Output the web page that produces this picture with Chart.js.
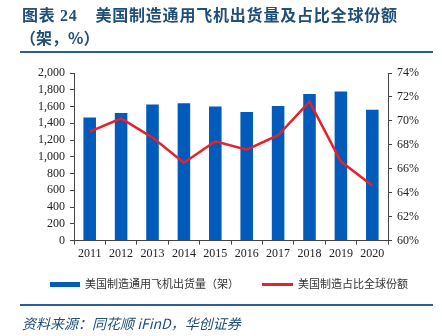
<!DOCTYPE html>
<html><head><meta charset="utf-8">
<script src="https://cdn.jsdelivr.net/npm/chart.js@4"></script>
<style>
html,body{margin:0;padding:0;background:#fff;}
#wrap{position:relative;width:442px;height:336px;overflow:hidden;}
#c{position:absolute;left:0;top:0;}
.t{position:absolute;font-family:"Noto Sans CJK SC","Liberation Serif",serif;white-space:nowrap;}
#t1{left:22px;top:2px;font-size:16px;font-weight:bold;color:#1F4E79;letter-spacing:0.8px;}
#t2{left:20px;top:25px;font-size:16px;font-weight:bold;color:#1F4E79;}
.rule{position:absolute;left:20px;width:413px;height:2px;background:#2E5C97;}
.leg{position:absolute;font-family:"Noto Sans CJK SC",serif;font-size:11px;color:#333;white-space:nowrap;top:275px;}
#src{left:22px;top:313px;font-size:14px;font-style:italic;color:#1F4E79;font-family:"Noto Sans CJK SC",serif;}
</style></head>
<body><div id="wrap">
<canvas id="c" width="442" height="336"></canvas>
<div class="t" id="t1">图表 <span style="font-family:'Liberation Serif'">24</span>&nbsp;&nbsp;&nbsp;&nbsp;美国制造通用飞机出货量及占比全球份额</div>
<div class="t" id="t2">（架，%）</div>
<div class="rule" style="top:51px"></div>
<div style="position:absolute;left:50px;top:282px;width:30px;height:5px;background:#005BBB"></div>
<div class="leg" style="left:85px">美国制造通用飞机出货量（架）</div>
<div style="position:absolute;left:262px;top:283px;width:31px;height:3px;background:#E8202A"></div>
<div class="leg" style="left:298px">美国制造占比全球份额</div>
<div class="rule" style="top:304px"></div>
<div class="t" id="src">资料来源：同花顺 iFinD，华创证券</div>
</div>
<script>
const years = ["2011","2012","2013","2014","2015","2016","2017","2018","2019","2020"];
const shipments = [1468,1524,1623,1639,1599,1536,1607,1750,1778,1560];
const sharePct = [69.1,70.2,68.6,66.5,68.3,67.6,68.8,71.6,66.6,64.6];
const leftTicks = [0,200,400,600,800,1000,1200,1400,1600,1800,2000];
const rightTicks = [60,62,64,66,68,70,72,74];

const serif = {family:"'Liberation Serif','Times New Roman',serif", size:12};
new Chart(document.getElementById('c'), {
  data: {
    labels: years,
    datasets: [
      {type:'line', label:'美国制造占比全球份额', data: sharePct, yAxisID:'y1',
       borderColor:'#E8202A', borderWidth:2.5, pointRadius:0, tension:0, order:0},
      {type:'bar', label:'美国制造通用飞机出货量（架）', data: shipments, yAxisID:'y',
       backgroundColor:'#005BBB', borderWidth:0, barPercentage:0.4, categoryPercentage:1, order:1}
    ]
  },
  options: {
    responsive:false, animation:false,
    layout:{padding:{left:33,right:18,top:73,bottom:73}},
    plugins:{legend:{display:false}, tooltip:{enabled:false}},
    scales:{
      x:{offset:true,
         grid:{display:true, offset:true, drawOnChartArea:false, drawTicks:true, tickLength:4, color:'#444'},
         border:{display:true, color:'#444', width:1},
         ticks:{color:'#222', font:serif, padding:2, maxRotation:0, autoSkip:false}},
      y:{position:'left', min:0, max:2000,
         afterBuildTicks: s => { s.ticks = leftTicks.map(v=>({value:v})); },
         grid:{display:true, drawOnChartArea:false, drawTicks:true, tickLength:4, color:'#444'},
         border:{display:true, color:'#444', width:1},
         ticks:{color:'#222', font:serif, padding:5, autoSkip:false, callback:v=>v.toLocaleString('en-US')}},
      y1:{position:'right', min:60, max:74,
         afterBuildTicks: s => { s.ticks = rightTicks.map(v=>({value:v})); },
         grid:{display:true, drawOnChartArea:false, drawTicks:true, tickLength:4, color:'#444'},
         border:{display:true, color:'#444', width:1},
         ticks:{color:'#222', font:serif, padding:5, autoSkip:false, callback:v=>v+'%'}}
    }
  }
});
</script>
</body></html>
